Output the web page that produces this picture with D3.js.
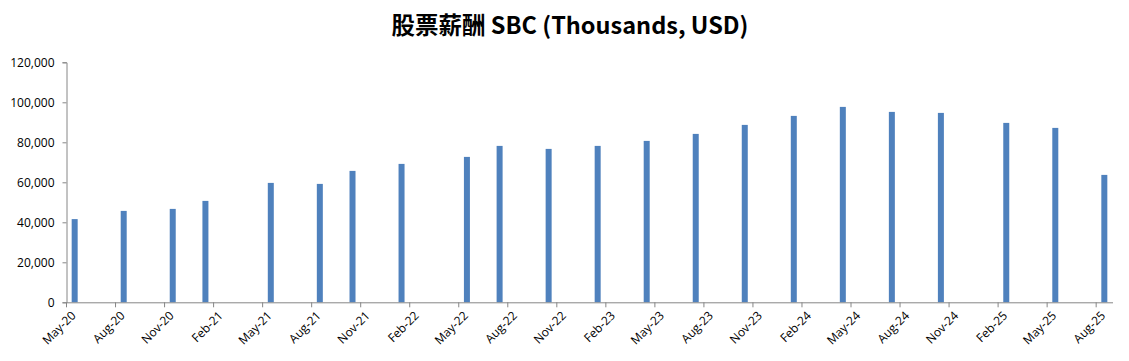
<!DOCTYPE html>
<html><head><meta charset="utf-8">
<script src="https://cdn.jsdelivr.net/npm/d3@7"></script>
<style>
body{margin:0;background:#fff;}
svg text{font-family:"Open Sans","Liberation Sans",sans-serif;}
</style></head>
<body><svg id="c" width="1129" height="361"></svg>
<script>
const title = "股票薪酬 SBC (Thousands, USD)";
const barMonths = ["2020-05","2020-08","2020-11","2021-01","2021-05","2021-08","2021-10","2022-01","2022-05","2022-07","2022-10","2023-01","2023-04","2023-07","2023-10","2024-01","2024-04","2024-07","2024-10","2025-02","2025-05","2025-08"];
const sbcValues = [41600,45700,46700,50700,59700,59200,65700,69200,72700,78200,76700,78200,80700,84200,88700,93200,97700,95200,94700,89700,87200,63700];
const tickMonths = ["2020-05","2020-08","2020-11","2021-02","2021-05","2021-08","2021-11","2022-02","2022-05","2022-08","2022-11","2023-02","2023-05","2023-08","2023-11","2024-02","2024-05","2024-08","2024-11","2025-02","2025-05","2025-08"];
const tickLabels = ["May-20","Aug-20","Nov-20","Feb-21","May-21","Aug-21","Nov-21","Feb-22","May-22","Aug-22","Nov-22","Feb-23","May-23","Aug-23","Nov-23","Feb-24","May-24","Aug-24","Nov-24","Feb-25","May-25","Aug-25"];
const yTicks = [0,20000,40000,60000,80000,100000,120000];

(function(){
const svg = d3.select("#c");
const mL = 66.5, mR = 1112.5, mT = 62.3, mB = 302.3;

const allMonths = d3.utcMonths(new Date(Date.UTC(2020,4,1)), new Date(Date.UTC(2025,8,1))).map(d3.utcFormat("%Y-%m"));
const x = d3.scaleBand().domain(allMonths).range([mL, mR]).padding(0);
const y = d3.scaleLinear().domain([0,120000]).range([mB, mT]);

svg.append("text").attr("x", 570).attr("y", 34).attr("text-anchor","middle")
  .style("font-family","'Noto Sans CJK SC','Open Sans',sans-serif").style("font-size","23.5px").style("font-weight","bold")
  .attr("fill","#000").text(title);

const bw = 6;
svg.append("g").selectAll("rect").data(barMonths).join("rect")
  .attr("x", (d)=> x(d) + x.bandwidth()/2 - bw/2)
  .attr("width", bw)
  .attr("y", (d,i)=> y(sbcValues[i]))
  .attr("height", (d,i)=> y(0) - y(sbcValues[i]))
  .attr("fill", "#4F81BD");

const yAxis = d3.axisLeft(y).tickValues(yTicks).tickFormat(d3.format(",")).tickSize(4).tickPadding(8);
const gy = svg.append("g").attr("transform",`translate(${mL},0)`).call(yAxis);
gy.select(".domain").attr("stroke","#868686");
gy.selectAll(".tick line").attr("stroke","#868686");
gy.selectAll(".tick text").attr("fill","#000").style("font-size","12px");

const xAxis = d3.axisBottom(x).tickValues(tickMonths).tickFormat((d,i)=>tickLabels[i]).tickSize(5).tickSizeOuter(0);
const gx = svg.append("g").attr("transform",`translate(0,${mB})`).call(xAxis);
gx.selectAll(".tick").attr("transform", d=>`translate(${x(d)},0)`);
gx.select(".domain").attr("stroke","#868686");
gx.selectAll(".tick line").attr("stroke","#868686");
gx.selectAll(".tick text").attr("fill","#000").style("font-size","12px")
  .attr("text-anchor","end").attr("dy",null).attr("y",0)
  .attr("transform","translate(10,14) rotate(-45)");
})();
</script></body></html>
